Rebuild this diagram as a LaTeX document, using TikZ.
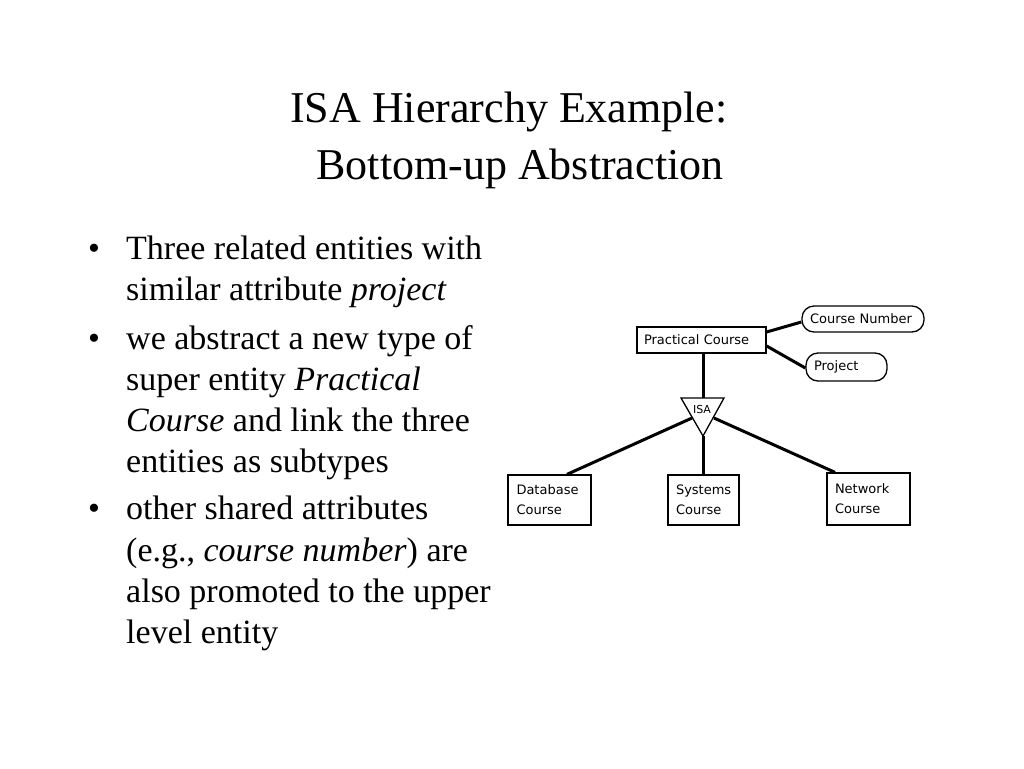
\documentclass[tikz,border=0pt]{standalone}
\usepackage{fontspec}
\setmainfont{Liberation Serif}
\newfontfamily\diag{DejaVu Sans}
\begin{document}
\begin{tikzpicture}[x=1pt,y=-1pt,
  ent/.style={draw, line width=1.3pt, inner ysep=0pt, inner xsep=8pt, font=\diag\fontsize{13}{20}\selectfont, align=left},
  attr/.style={draw, line width=1.3pt, rounded corners=12pt, inner ysep=0pt, inner xsep=8pt, font=\diag\fontsize{13}{14}\selectfont, align=left},
  link/.style={line width=3pt},
  ln/.style={anchor=base west, font=\fontsize{34}{41}\selectfont, inner sep=0pt},
  ttl/.style={anchor=base, font=\fontsize{44}{52}\selectfont, inner sep=0pt}
  ]
\useasboundingbox (0,0) rectangle (1024,768);
\fill[white] (0,0) rectangle (1024,768);

% title
\node[ttl] (t1) at (509,122) {ISA Hierarchy Example:};
\node[ttl] (t2) at (520,179) {Bottom-up Abstraction};

% bullets
\node[ln] (d1) at (88,259) {\textbullet};
\node[ln] (l1) at (126,259) {Three related entities with};
\node[ln] (l2) at (126,300) {similar attribute \textit{project}};
\node[ln] (d2) at (88,349) {\textbullet};
\node[ln] (l3) at (126,349) {we abstract a new type of};
\node[ln] (l4) at (126,390) {super entity \textit{Practical}};
\node[ln] (l5) at (126,431) {\textit{Course} and link the three};
\node[ln] (l6) at (126,472) {entities as subtypes};
\node[ln] (d3) at (88,519) {\textbullet};
\node[ln] (l7) at (126,519) {other shared attributes};
\node[ln] (l8) at (126,561) {(e.g., \textit{course number}) are};
\node[ln] (l9) at (126,602) {also promoted to the upper};
\node[ln] (l10) at (126,643) {level entity};

% diagram
\node[ent, minimum width=129, minimum height=26, text width=115, inner xsep=7pt] (pc) at (701.5,340) {Practical Course};
\node[attr, minimum width=122, minimum height=26, text width=106] (cn) at (863,319) {Course Number};
\node[attr, minimum width=81, minimum height=28, text width=65] (pj) at (846.5,367) {Project};

\coordinate (tl) at (681,398);
\coordinate (tr) at (724,398);
\coordinate (ta) at (703,436);
\coordinate (tt) at (703,398);
\coordinate (sl) at (692,418);
\coordinate (sr) at (714,418);
\draw[line width=1.3pt, line join=miter] (tl) -- (tr) -- (ta) -- cycle;
\node[font=\diag\fontsize{11}{12}\selectfont, inner sep=0pt] (isa) at (702,409) {ISA};

\node[ent, minimum width=83, minimum height=50, text width=66, inner xsep=8.5pt] (db) at (549.5,500) {Database\\Course};
\node[ent, minimum width=71, minimum height=50, text width=55] (sy) at (703.5,500) {Systems\\Course};
\node[ent, minimum width=83, minimum height=52, text width=67] (nw) at (868.5,499) {Network\\Course};

\draw[link] (pc.south -| tt) -- (tt);
\draw[link] (ta) -- (sy.north -| ta);
\draw[link] (sl) -- (db.north -| 567,0);
\draw[link] (sr) -- (nw.north -| 835,0);
\draw[link] (pc.east |- 0,332) -- (cn.west |- 0,322);
\draw[link] (pc.east |- 0,346) -- (pj.west |- 0,368);
\end{tikzpicture}
\end{document}
